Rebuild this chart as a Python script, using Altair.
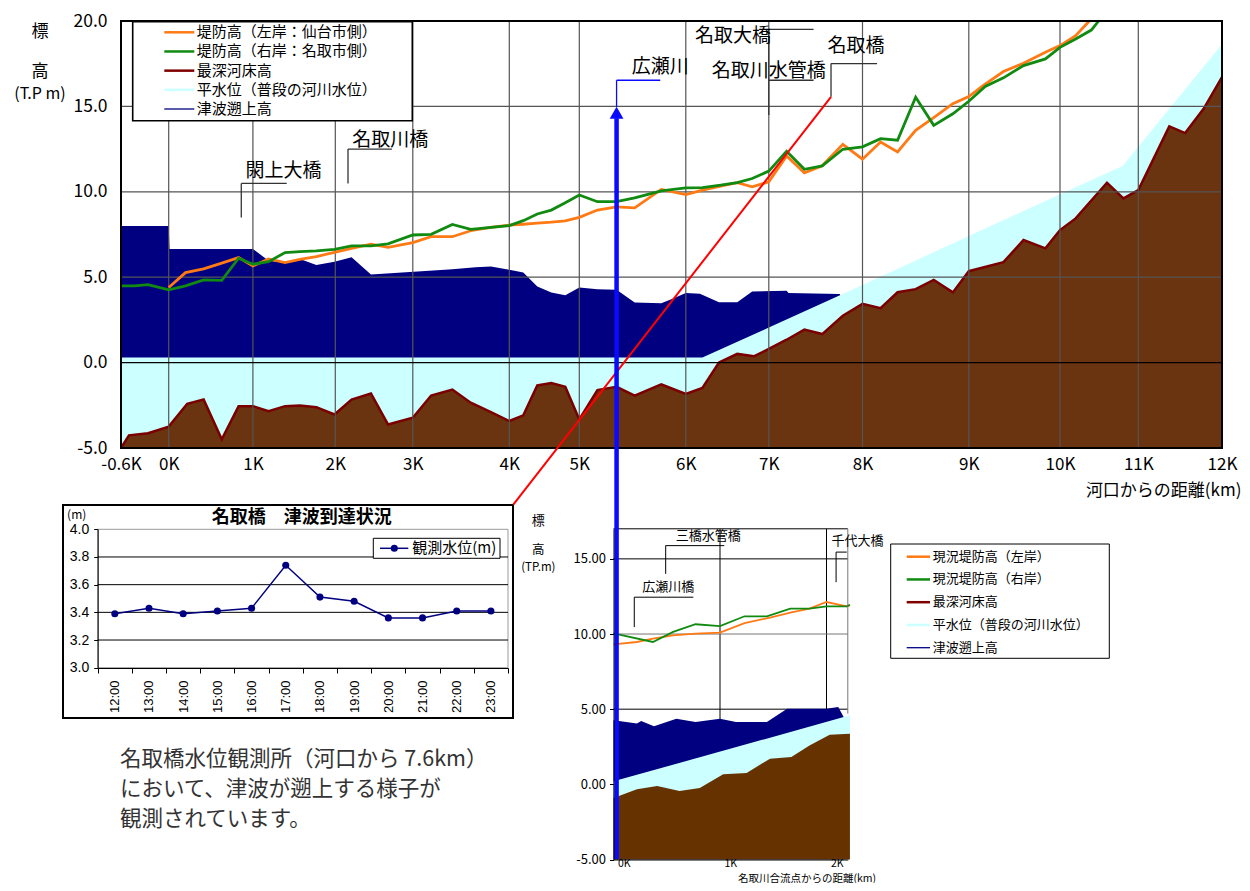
import altair as alt
import pandas as pd

FONT = "Noto Sans CJK JP"
ORANGE = "#ff7a14"
GREEN = "#108a10"
BED_FILL = "#6b3410"
BED_LINE = "#7a0000"
CYAN = "#ccffff"
NAVY = "#000080"
BLUE = "#0a0aff"
RED = "#ff0000"
GRID = "#555555"
MINUS = "\u2212"

# ---------------- main profile: distance from river mouth (km) ----------------
TICK_KM = [-0.6, 0, 1, 2, 3, 4, 5, 6, 7, 8, 9, 10, 11, 12]

LEFT_KM = [0.0, 0.2, 0.415, 0.63, 0.83, 1.0, 1.19, 1.39, 1.57, 1.77, 1.99, 2.21, 2.46, 2.68, 3.0,
           3.19, 3.41, 3.6, 3.81, 4.0, 4.2, 4.4, 4.6, 4.8, 5.0, 5.17, 5.35, 5.52, 5.77, 6.0,
           6.2, 6.42, 6.62, 6.8, 7.0, 7.19, 7.38, 7.57, 7.79, 8.0, 8.17, 8.33, 8.5, 8.67, 8.85,
           9.0, 9.16, 9.38, 9.6, 9.84, 10.0, 10.2, 10.37, 10.5]
LEFT_H = [4.40, 5.27, 5.49, 5.82, 6.15, 5.66, 6.07, 5.86, 6.05, 6.21, 6.46, 6.69, 6.93, 6.75, 7.02,
          7.37, 7.37, 7.72, 7.92, 8.05, 8.10, 8.16, 8.22, 8.30, 8.50, 8.93, 9.12, 9.06, 10.14, 9.84,
          10.10, 10.33, 10.53, 10.29, 10.58, 12.10, 11.11, 11.52, 12.78, 11.91, 12.92, 12.33, 13.60, 14.34, 15.16,
          15.58, 16.23, 17.04, 17.53, 18.17, 18.56, 19.14, 19.98, 21.0]

RIGHT_KM = [-0.6, -0.43, -0.26, 0.0, 0.2, 0.415, 0.63, 0.83, 1.0, 1.19, 1.39, 1.57, 1.77, 1.99, 2.21,
            2.46, 2.68, 3.0, 3.19, 3.41, 3.6, 3.81, 4.0, 4.2, 4.4, 4.6, 4.8, 5.0, 5.17, 5.35,
            5.52, 5.77, 6.0, 6.2, 6.42, 6.62, 6.8, 7.0, 7.19, 7.38, 7.57, 7.79, 8.0, 8.17, 8.33,
            8.5, 8.67, 8.85, 9.0, 9.18, 9.38, 9.6, 9.84, 10.0, 10.2, 10.4, 10.49, 10.6]
RIGHT_H = [4.49, 4.49, 4.57, 4.26, 4.49, 4.84, 4.81, 6.11, 5.76, 5.91, 6.44, 6.50, 6.54, 6.63, 6.83,
           6.83, 6.95, 7.47, 7.51, 8.09, 7.80, 7.92, 8.02, 8.31, 8.70, 8.93, 9.36, 9.81, 9.42, 9.42,
           9.65, 10.06, 10.23, 10.25, 10.39, 10.54, 10.78, 11.21, 12.37, 11.32, 11.52, 12.49, 12.63, 13.11, 13.02,
           15.54, 13.89, 14.57, 15.30, 16.17, 16.67, 17.39, 17.78, 18.46, 18.95, 19.47, 19.98, 21.0]

BED_KM = [-0.6, -0.5, -0.26, 0.0, 0.22, 0.415, 0.63, 0.83, 1.0, 1.19, 1.39, 1.57, 1.77, 1.99, 2.21,
          2.46, 2.68, 3.0, 3.19, 3.41, 3.6, 3.81, 4.0, 4.2, 4.4, 4.6, 4.8, 5.0, 5.17, 5.35,
          5.52, 5.77, 6.0, 6.2, 6.4, 6.62, 6.82, 7.0, 7.19, 7.38, 7.57, 7.79, 8.0, 8.17, 8.33,
          8.5, 8.67, 8.85, 9.0, 9.38, 9.6, 9.84, 10.0, 10.2, 10.6, 10.81, 11.0, 11.37, 11.56, 11.78, 12.0]
BED_H = [-5.0, -4.26, -4.14, -3.75, -2.41, -2.16, -4.49, -2.55, -2.55, -2.84, -2.55, -2.51, -2.61, -3.04, -2.16,
         -1.81, -3.62, -3.23, -1.93, -1.58, -2.35, -2.90, -3.42, -3.09, -1.34, -1.19, -1.42, -3.33, -1.61, -1.42,
         -1.93, -1.28, -1.83, -1.48, 0.0, 0.51, 0.37, 0.80, 1.34, 1.93, 1.67, 2.74, 3.44, 3.19, 4.12,
         4.30, 4.84, 4.11, 5.35, 5.88, 7.18, 6.69, 7.76, 8.44, 10.53, 9.61, 10.10, 13.83, 13.44, 14.86, 16.71]

WATER_KM = [-0.6, 6.2, 7.0, 8.0, 9.0, 10.0, 10.8, 12.0]
WATER_H = [0.3, 0.3, 2.05, 4.54, 7.41, 9.85, 11.51, 18.64]

TSU_KM = [-0.6, 0.0, 0.01, 1.0, 1.19, 1.39, 1.57, 1.77, 1.99, 2.21, 2.46, 3.13, 3.41, 3.65, 3.81,
          4.0, 4.2, 4.4, 4.6, 4.8, 5.0, 5.17, 5.35, 5.52, 5.77, 5.87, 6.0, 6.17, 6.4, 6.62,
          6.8, 7.19, 7.21, 7.76]
TSU_H = [8.0, 8.0, 6.65, 6.65, 5.97, 5.86, 6.07, 5.72, 5.91, 6.17, 5.16, 5.37, 5.47, 5.58, 5.62,
         5.43, 5.27, 4.46, 4.11, 3.95, 4.40, 4.30, 4.26, 3.52, 3.48, 3.72, 4.07, 4.03, 3.54, 3.54,
         4.16, 4.20, 4.07, 4.01]

LEGEND_LABELS = ["堤防高（左岸：仙台市側）", "堤防高（右岸：名取市側）", "最深河床高",
                 "平水位（普段の河川水位）", "津波遡上高"]
LEGEND2_LABELS = ["現況堤防高（左岸）", "現況堤防高（右岸）", "最深河床高",
                  "平水位（普段の河川水位）", "津波遡上高"]
LEGEND_COLORS = [ORANGE, GREEN, "#800000", CYAN, NAVY]
LEGEND_WIDTHS = [2.5, 2.5, 2.5, 2.5, 1.3]

BRIDGE_NAMES = ["閖上大橋", "名取川橋", "名取大橋", "名取川水管橋", "名取橋", "広瀬川"]
BRIDGE_KM = [1.37, 2.71, 6.57, 7.0, 7.93, 5.76]
BRIDGE_H = [11.23, 13.03, 19.11, 17.08, 18.52, 17.31]
LEAD_X1 = [0.862, 0.862, 2.164, 2.164, 7.0, 7.0, 7.0, 7.664, 7.664]
LEAD_Y1 = [8.50, 10.49, 10.49, 12.50, 14.49, 19.51, 16.53, 15.56, 17.51]
LEAD_X2 = [0.862, 1.41, 2.164, 2.73, 7.0, 7.478, 7.478, 7.664, 8.137]
LEAD_Y2 = [10.49, 10.49, 12.50, 12.50, 19.51, 19.51, 16.53, 17.51, 17.51]

Y_TITLE = ["標", "高", "(T.P m)"]
Y2_TITLE = ["標", "高", "(TP.m)"]

# ---------------- inset 1: water level at 名取橋 ----------------
TIMES = ["12:00", "13:00", "14:00", "15:00", "16:00", "17:00", "18:00", "19:00",
         "20:00", "21:00", "22:00", "23:00"]
LEVEL = [3.39, 3.43, 3.39, 3.41, 3.43, 3.74, 3.51, 3.48, 3.36, 3.36, 3.41, 3.41]

# ---------------- inset 2: distance from 名取川 confluence (km) ----------------
ORANGE2_KM = [0.0, 0.22, 0.37, 0.56, 0.77, 1.0, 1.23, 1.47, 1.66, 1.84, 2.0, 2.19, 2.22]
ORANGE2_H = [9.31, 9.47, 9.69, 9.91, 10.02, 10.09, 10.73, 11.09, 11.42, 11.69, 12.13, 11.84, 11.91]
GREEN2_KM = [0.0, 0.37, 0.56, 0.77, 1.0, 1.23, 1.44, 1.66, 1.84, 2.0, 2.19, 2.22]
GREEN2_H = [10.05, 9.47, 10.14, 10.65, 10.53, 11.18, 11.18, 11.69, 11.69, 11.84, 11.84, 11.95]
TSU2_KM = [0.0, 0.22, 0.26, 0.38, 0.59, 0.77, 1.0, 1.15, 1.44, 1.63, 2.0, 2.11, 2.17]
TSU2_H = [4.26, 4.04, 4.22, 3.86, 4.37, 4.15, 4.37, 4.15, 4.15, 5.03, 5.03, 5.14, 4.37]
WATER2_KM = [0.0, 2.22]
WATER2_H = [0.2, 4.59]
BED2_KM = [0.0, 0.22, 0.41, 0.62, 0.81, 1.03, 1.25, 1.47, 1.67, 1.84, 2.03, 2.22]
BED2_H = [-0.91, -0.33, -0.11, -0.44, -0.24, 0.67, 0.75, 1.71, 1.82, 2.59, 3.30, 3.37]
B2_NAMES = ["三橋水管橋", "広瀬川橋", "千代大橋"]
B2_KM = [0.89, 0.515, 2.29]
B2_H = [16.53, 13.12, 16.2]
L2_X1 = [0.49, 0.49, 0.195, 0.195, 2.09, 2.09]
L2_Y1 = [14.0, 15.88, 10.46, 12.45, 13.45, 15.45]
L2_X2 = [0.49, 1.04, 0.195, 0.75, 2.09, 2.19]
L2_Y2 = [15.88, 15.88, 12.45, 12.45, 15.45, 15.45]

PARA = ["名取橋水位観測所（河口から 7.6km）", "において、津波が遡上する様子が", "観測されています。"]

# ---------------- layout / scales ----------------
W, H = 1101, 427
TICK_PX = [0, 47.7, 131.9, 214.3, 291.8, 388.3, 458.3, 564.8, 647.8, 741.5, 847.8, 939, 1017.3, 1101]
XM = alt.Scale(domain=TICK_KM, range=TICK_PX, nice=False, zero=False)
YM = alt.Scale(domain=[-5, 20], range=[H, 0], nice=False, zero=False)
XI1 = alt.Scale(type="band", domain=TIMES, range=[-23.3, 387], paddingInner=0, paddingOuter=0)
YI1 = alt.Scale(domain=[3.0, 4.0], range=[646.7, 508.3], nice=False, zero=False)
XI2 = alt.Scale(domain=[0, 2.2], range=[492.5, 726.8], nice=False, zero=False)
YI2 = alt.Scale(domain=[-5, 17], range=[838.5, 507.8], nice=False, zero=False)

ONE = pd.DataFrame({"a": [0]})


def series(km, h):
    return pd.DataFrame({"km": km, "h": h})


def rect_px(x1, x2, y1, y2, **mk):
    return alt.Chart(ONE).mark_rect(**mk).encode(
        x=alt.value(x1), x2=alt.value(x2), y=alt.value(y1), y2=alt.value(y2))


def text_px(t, x, y, **mk):
    return alt.Chart(pd.DataFrame({"t": [t]})).mark_text(**mk).encode(
        x=alt.value(x), y=alt.value(y), text="t:N")


def stacked_title(lines, x, ys, sizes):
    return [text_px(t, x, y, fontSize=s, align="center", baseline="middle", color="black")
            for t, y, s in zip(lines, ys, sizes)]


def area(km, h, xs, ys, color, xaxis=None, yaxis=None):
    return alt.Chart(series(km, h)).mark_area(color=color, opacity=1).encode(
        x=alt.X("km:Q", scale=xs, axis=xaxis),
        y=alt.Y("h:Q", scale=ys, axis=yaxis),
        y2=alt.datum(-5))


def line(km, h, xs, ys, color, width, clip=False):
    return alt.Chart(series(km, h)).mark_line(color=color, strokeWidth=width, clip=clip).encode(
        x=alt.X("km:Q", scale=xs, axis=None), y=alt.Y("h:Q", scale=ys, axis=None))


def segments(x1, y1, x2, y2, xs, ys, color, width):
    d = pd.DataFrame({"x1": x1, "y1": y1, "x2": x2, "y2": y2})
    return alt.Chart(d).mark_rule(color=color, strokeWidth=width).encode(
        x=alt.X("x1:Q", scale=xs, axis=None), y=alt.Y("y1:Q", scale=ys, axis=None),
        x2="x2:Q", y2="y2:Q")


def labels(names, km, h, xs, ys, size):
    d = pd.DataFrame({"t": names, "km": km, "h": h})
    return alt.Chart(d).mark_text(fontSize=size, color="black", align="center", baseline="middle").encode(
        x=alt.X("km:Q", scale=xs, axis=None), y=alt.Y("h:Q", scale=ys, axis=None), text="t:N")


def legend(labs, x1, x2, xt, y0, y1, size):
    d = pd.DataFrame({"lab": labs, "c": LEGEND_COLORS, "w": LEGEND_WIDTHS})
    ysc = alt.Scale(type="point", domain=labs, range=[y0, y1], padding=0)
    rules = alt.Chart(d).mark_rule().encode(
        x=alt.value(x1), x2=alt.value(x2), y=alt.Y("lab:N", scale=ysc, axis=None),
        color=alt.Color("c:N", scale=None), strokeWidth=alt.StrokeWidth("w:Q", scale=None))
    texts = alt.Chart(d).mark_text(align="left", baseline="middle", fontSize=size, color="black").encode(
        x=alt.value(xt), y=alt.Y("lab:N", scale=ysc, axis=None), text="lab:N")
    return [rules, texts]


# ---------------- main chart ----------------
ax_x_main = alt.Axis(orient="bottom", values=TICK_KM, labelExpr="datum.value + 'K'", grid=False,
                     ticks=False, domain=False, labelFontSize=17, labelPadding=8, labelFlush=False,
                     labelOverlap=False, labelColor="black", title="河口からの距離(km)",
                     titleFontSize=17, titleFontWeight="normal", titleX=1120, titleY=42,
                     titleAlign="right", titleBaseline="middle", titleColor="black")
ax_y_main = alt.Axis(orient="left", values=[-5, 0, 5, 10, 15, 20],
                     labelExpr=f"replace(format(datum.value, '.1f'), '{MINUS}', '-')",
                     grid=False, ticks=False, domain=False, labelFontSize=17.5, labelPadding=14,
                     labelFlush=False, labelOverlap=False, labelColor="black", title=None)

layers = []
layers.append(area(TSU_KM, TSU_H, XM, YM, NAVY, ax_x_main, ax_y_main))
layers.append(area(WATER_KM, WATER_H, XM, YM, CYAN))
layers.append(area(BED_KM, BED_H, XM, YM, BED_FILL))
layers.append(line(BED_KM, BED_H, XM, YM, BED_LINE, 2.5))

vgrid = alt.Chart(pd.DataFrame({"km": TICK_KM[1:-1]})).mark_rule(color=GRID, strokeWidth=1.2).encode(
    x=alt.X("km:Q", scale=XM, axis=None), y=alt.YDatum(-5, scale=YM, axis=None), y2=alt.Y2Datum(20))
hgrid = alt.Chart(pd.DataFrame({"h": [0, 5, 10, 15], "c": ["black", GRID, GRID, GRID]})).mark_rule(
    strokeWidth=1.2).encode(
    y=alt.Y("h:Q", scale=YM, axis=None), x=alt.XDatum(-0.6, scale=XM, axis=None), x2=alt.X2Datum(12),
    color=alt.Color("c:N", scale=None))
layers += [vgrid, hgrid]
layers.append(line(LEFT_KM, LEFT_H, XM, YM, ORANGE, 2.8, clip=True))
layers.append(line(RIGHT_KM, RIGHT_H, XM, YM, GREEN, 2.8, clip=True))

layers += stacked_title(Y_TITLE, -81, [10.7, 51.2, 73.3], [17, 17, 16])
layers.append(rect_px(11.7, 291.3, 0.7, 99.7, fill="white", stroke="black", strokeWidth=1.6))
layers += legend(LEGEND_LABELS, 43.3, 73.3, 75.7, 11.3, 88, 15)

layers.append(segments(LEAD_X1, LEAD_Y1, LEAD_X2, LEAD_Y2, XM, YM, "#333333", 1.3))
layers.append(labels(BRIDGE_NAMES, BRIDGE_KM, BRIDGE_H, XM, YM, 19))
layers.append(segments([5.35, 5.35], [14.97, 16.53], [5.35, 5.76], [16.53, 16.53], XM, YM, BLUE, 1.3))
layers.append(rect_px(0, W, 0, H, fillOpacity=0, stroke="black", strokeWidth=2))

# ---------------- inset 1 ----------------
ax_i1x = alt.Axis(orient="bottom", offset=220, tickBand="extent", labelAngle=270,
                  labelFont="Liberation Sans", labelFontSize=13, labelPadding=7, tickSize=5,
                  tickColor="black", domainColor="black", labelColor="black", grid=False,
                  title=None, zindex=1)
ax_i1y = alt.Axis(orient="left", offset=23.3, values=[3.0, 3.2, 3.4, 3.6, 3.8, 4.0], format=".1f",
                  labelFont="Liberation Sans", labelFontSize=14, tickSize=4, labelPadding=5,
                  tickColor="black", domainColor="black", labelColor="black", grid=False,
                  labelFlush=False, title=None, zindex=1)
layers.append(rect_px(-58, 392, 484, 697, fill="white", stroke="black", strokeWidth=2))
layers.append(alt.Chart(ONE).mark_rect(fillOpacity=0, stroke="#999999", strokeWidth=1).encode(
    x=alt.value(-23.3), x2=alt.value(387), y=alt.YDatum(4.0, scale=YI1, axis=None), y2=alt.Y2Datum(3.0)))
layers.append(alt.Chart(pd.DataFrame({"v": [3.2, 3.4, 3.6, 3.8]})).mark_rule(
    color="black", strokeWidth=1).encode(
    y=alt.Y("v:Q", scale=YI1, axis=None), x=alt.value(-23.3), x2=alt.value(387)))
layers.append(alt.Chart(pd.DataFrame({"t": TIMES, "v": LEVEL})).mark_line(
    color=NAVY, strokeWidth=1.5,
    point=alt.OverlayMarkDef(filled=True, size=50, color=NAVY, opacity=1)).encode(
    x=alt.X("t:N", scale=XI1, axis=ax_i1x, bandPosition=0.5),
    y=alt.Y("v:Q", scale=YI1, axis=ax_i1y)))
layers.append(text_px("名取橋　津波到達状況", 180.7, 497.3, fontSize=18, fontWeight="bold",
                      align="center", baseline="middle", color="black"))
layers.append(text_px("(m)", -44.3, 494, fontSize=12, align="center", baseline="middle", color="black"))
layers.append(rect_px(252.3, 379, 517.3, 537.3, fill="white", stroke="black", strokeWidth=1))
layers.append(alt.Chart(ONE).mark_rule(color=NAVY, strokeWidth=1.5).encode(
    x=alt.value(259), x2=alt.value(287.3), y=alt.value(527.3)))
layers.append(alt.Chart(ONE).mark_point(filled=True, size=50, color=NAVY, opacity=1).encode(
    x=alt.value(273.3), y=alt.value(527.3)))
layers.append(text_px("観測水位(m)", 291.3, 527.3, fontSize=15, align="left", baseline="middle",
                      color="black"))

# ---------------- inset 2 ----------------
ax_i2x = alt.Axis(orient="bottom", offset=411.5, values=[0, 1, 2], labelExpr="datum.value + 'K'",
                  labelAlign="left", labelOffset=4, tickSize=0, labelPadding=-1, labelFontSize=10.5,
                  labelFlush=False, labelColor="black", domainColor="black", grid=False,
                  title="名取川合流点からの距離(km)", titleFontSize=10.5, titleFontWeight="normal",
                  titleX=685.5, titleY=18.5, titleAlign="center", titleBaseline="middle",
                  titleColor="black", zindex=1)
ax_i2y = alt.Axis(orient="left", offset=-492.5, values=[-5, 0, 5, 10, 15],
                  labelExpr=f"replace(format(datum.value, '.2f'), '{MINUS}', '-')",
                  labelFontSize=13, tickSize=4, labelPadding=4, labelFlush=False, labelColor="black",
                  tickColor="black", domainColor="black", grid=False, title=None, zindex=1)

layers.append(alt.Chart(pd.DataFrame({"km": [1, 2]})).mark_rule(color="black", strokeWidth=1).encode(
    x=alt.X("km:Q", scale=XI2, axis=None), y=alt.YDatum(-5, scale=YI2, axis=None), y2=alt.Y2Datum(17)))
layers.append(alt.Chart(pd.DataFrame({"h": [5, 10, 15], "c": ["black", "#777777", "black"]})).mark_rule(
    strokeWidth=1).encode(
    y=alt.Y("h:Q", scale=YI2, axis=None), x=alt.XDatum(0, scale=XI2, axis=None), x2=alt.X2Datum(2.2),
    color=alt.Color("c:N", scale=None)))
layers.append(area(TSU2_KM, TSU2_H, XI2, YI2, NAVY, ax_i2x, ax_i2y))
layers.append(area(WATER2_KM, WATER2_H, XI2, YI2, CYAN))
layers.append(area(BED2_KM, BED2_H, XI2, YI2, "#663300"))
layers.append(line(ORANGE2_KM, ORANGE2_H, XI2, YI2, ORANGE, 1.8))
layers.append(line(GREEN2_KM, GREEN2_H, XI2, YI2, GREEN, 1.8))
layers.append(alt.Chart(ONE).mark_rule(color="black", strokeWidth=1).encode(
    x=alt.XDatum(0, scale=XI2, axis=None), x2=alt.X2Datum(2.2), y=alt.YDatum(17, scale=YI2, axis=None)))
layers.append(alt.Chart(ONE).mark_rule(color="#777777", strokeWidth=1).encode(
    x=alt.XDatum(2.2, scale=XI2, axis=None), y=alt.YDatum(17, scale=YI2, axis=None), y2=alt.Y2Datum(4.7)))
layers.append(segments(L2_X1, L2_Y1, L2_X2, L2_Y2, XI2, YI2, "black", 1))
layers.append(labels(B2_NAMES, B2_KM, B2_H, XI2, YI2, 13))
layers += stacked_title(Y2_TITLE, 417.3, [499.7, 529.2, 546.5], [13, 12.5, 11.5])
layers.append(rect_px(769.7, 988.3, 523, 637.3, fill="white", stroke="black", strokeWidth=1))
layers += legend(LEGEND2_LABELS, 785.7, 809, 811.7, 535.7, 626.7, 13)

# ---------------- paragraph ----------------
layers.append(alt.Chart(pd.DataFrame({"t": PARA})).mark_text(
    align="left", baseline="middle", fontSize=21.5, color="#333333").encode(
    x=alt.value(-1),
    y=alt.Y("t:N", scale=alt.Scale(type="point", domain=PARA, range=[739, 799], padding=0), axis=None),
    text="t:N"))

# ---------------- overlays crossing the panels ----------------
layers.append(segments([7.664], [15.56], [4.057], [-8.32], XM, YM, RED, 2))
layers.append(segments([5.35], [-29.08], [5.35], [14.3], XM, YM, BLUE, 4.5))
layers.append(alt.Chart(pd.DataFrame({"km": [5.35], "h": [14.63]})).mark_point(
    shape="triangle-up", filled=True, size=190, color=BLUE, opacity=1).encode(
    x=alt.X("km:Q", scale=XM, axis=None), y=alt.Y("h:Q", scale=YM, axis=None)))

chart = alt.layer(*layers).resolve_scale(
    x="independent", y="independent"
).resolve_axis(
    x="independent", y="independent"
).properties(
    width=W, height=H,
    autosize=alt.AutoSizeParams(type="none"),
    padding={"left": 113, "top": 13, "right": 20, "bottom": 435},
).configure(font=FONT).configure_view(stroke="transparent")

chart.save("out.html", embed_options={"renderer": "svg", "actions": False})
